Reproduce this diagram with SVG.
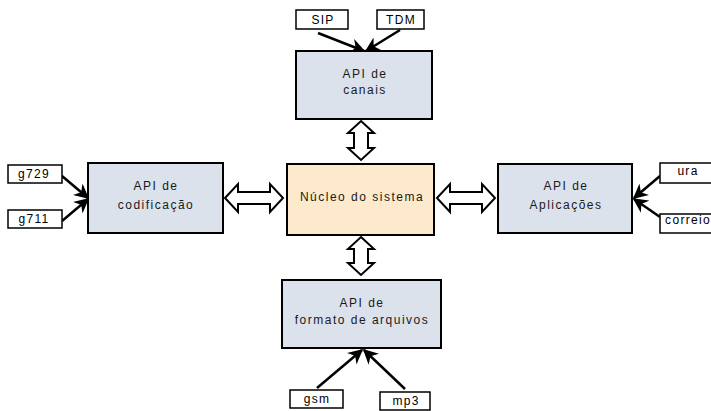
<svg xmlns="http://www.w3.org/2000/svg" width="711" height="411" viewBox="0 0 711 411">
<defs>
<style>
.api{fill:#dbe2ec;stroke:#000;stroke-width:2}
.core{fill:#fde9cb;stroke:#000;stroke-width:2}
.sm{fill:#fff;stroke:#000;stroke-width:1.5}
.t{font-family:"Liberation Sans",Arial,sans-serif;font-size:12px;fill:#1a1a1a;text-anchor:middle;letter-spacing:1.5px}
.ts{font-family:"Liberation Sans",Arial,sans-serif;font-size:12px;fill:#000;text-anchor:middle;letter-spacing:1.3px}
.ln{stroke:#000;stroke-width:2.5;fill:none;marker-end:url(#ah)}
.dbl{fill:#fff;stroke:#000;stroke-width:2}
</style>
<marker id="ah" viewBox="0 0 10 10" refX="9" refY="5" markerWidth="6" markerHeight="6" orient="auto" markerUnits="strokeWidth">
<path d="M0,0 L10,5 L0,10 L3,5 Z" fill="#000"/>
</marker>
</defs>
<g id="connectors">
<line class="ln" x1="318" y1="33" x2="364" y2="51"/>
<line class="ln" x1="400" y1="30" x2="366" y2="51"/>
<line class="ln" x1="62" y1="176" x2="88" y2="198"/>
<line class="ln" x1="62" y1="221" x2="88" y2="199"/>
<line class="ln" x1="660" y1="176" x2="634" y2="198"/>
<line class="ln" x1="660" y1="217" x2="634" y2="199"/>
<line class="ln" x1="317" y1="388" x2="362" y2="350"/>
<line class="ln" x1="405" y1="389" x2="364" y2="350"/>
<path id="dbl-top" class="dbl" d="M361,121 L374,133 L368,133 L368,148 L374,148 L361,160 L348,148 L354,148 L354,133 L348,133 Z"/>
<path id="dbl-bottom" class="dbl" d="M361,237 L374,249 L368,249 L368,263 L374,263 L361,275 L348,263 L354,263 L354,249 L348,249 Z"/>
<path id="dbl-left" class="dbl" d="M225,198 L238,184 L238,192 L270,192 L270,184 L283,198 L270,212 L270,204 L238,204 L238,212 Z"/>
<path id="dbl-right" class="dbl" d="M437,198 L450,184 L450,192 L482,192 L482,184 L495,198 L482,212 L482,204 L450,204 L450,212 Z"/>
</g>
<g id="sip"><rect class="sm" x="296" y="10" width="52" height="19"/><text class="ts" x="323" y="24">SIP</text></g>
<g id="tdm"><rect class="sm" x="377" y="10" width="47" height="19"/><text class="ts" x="401" y="24">TDM</text></g>
<g id="canais"><rect class="api" x="296" y="51" width="136" height="68"/><text class="t" x="365" y="78">API de</text><text class="t" x="365" y="94">canais</text></g>
<g id="g729"><rect class="sm" x="8" y="165" width="54" height="18"/><text class="ts" x="34" y="178">g729</text></g>
<g id="g711"><rect class="sm" x="8" y="210" width="54" height="18"/><text class="ts" x="34" y="223">g711</text></g>
<g id="codificacao"><rect class="api" x="88" y="163" width="135" height="70"/><text class="t" x="156" y="190">API de</text><text class="t" x="156" y="209">codificação</text></g>
<g id="nucleo"><rect class="core" x="287" y="164" width="147" height="71"/><text class="t" x="362" y="201">Núcleo do sistema</text></g>
<g id="aplicacoes"><rect class="api" x="498" y="164" width="134" height="69"/><text class="t" x="566" y="190">API de</text><text class="t" x="566" y="209">Aplicações</text></g>
<g id="ura"><rect class="sm" x="660" y="163" width="52" height="20"/><text class="ts" x="688" y="175">ura</text></g>
<g id="correio"><rect class="sm" x="660" y="214" width="52" height="19"/><text class="ts" x="688" y="224">correio</text></g>
<g id="arquivos"><rect class="api" x="282" y="280" width="159" height="68"/><text class="t" x="362" y="307">API de</text><text class="t" x="362" y="324">formato de arquivos</text></g>
<g id="gsm"><rect class="sm" x="290" y="390" width="53" height="18"/><text class="ts" x="317" y="403">gsm</text></g>
<g id="mp3"><rect class="sm" x="380" y="392" width="50" height="18"/><text class="ts" x="406" y="405">mp3</text></g>
</svg>
